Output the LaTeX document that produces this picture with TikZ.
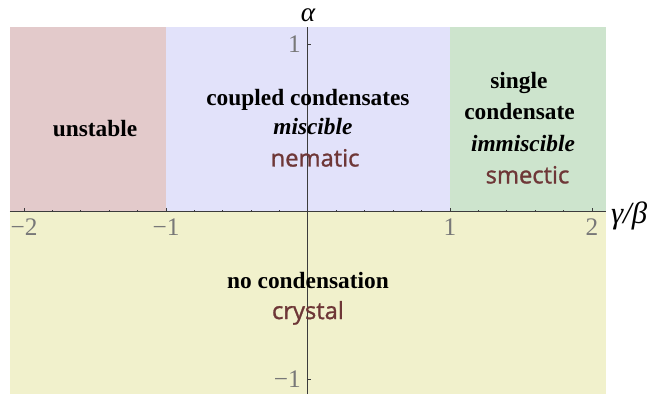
\documentclass[tikz,border=0pt]{standalone}
\usepackage{fontspec}
\setmainfont{Liberation Serif}
\newfontfamily\phasefont[FakeBold=1.2]{Open Sans}
\definecolor{unstcol}{RGB}{227,202,203}
\definecolor{coupcol}{RGB}{226,226,250}
\definecolor{singcol}{RGB}{205,228,205}
\definecolor{nonecol}{RGB}{241,241,204}
\definecolor{phasecol}{RGB}{110,55,55}
\definecolor{tickcol}{RGB}{120,120,120}
\definecolor{axiscol}{RGB}{60,60,60}
\begin{document}
\begin{tikzpicture}[x=2.84cm, y=3.35cm,
  region/.style={anchor=base, font=\fontsize{13.3}{16}\selectfont\bfseries},
  regionit/.style={anchor=base, font=\fontsize{13.3}{16}\selectfont\bfseries\itshape},
  phase/.style={anchor=base, font=\fontsize{13.5}{16}\selectfont\phasefont, text=phasecol},
  ticklab/.style={font=\fontsize{14.4}{16}\selectfont, text=tickcol, inner sep=1pt},
  axlab/.style={font=\fontsize{17.5}{19}\selectfont\itshape, inner sep=1pt},
  axisline/.style={axiscol, line width=0.6pt}]
\useasboundingbox (-2.169,-1.09) rectangle (2.43,1.263);
% phase regions
\fill[unstcol] (-2.1,0) rectangle (-1,1.1);
\fill[coupcol] (-1,0) rectangle (1,1.1);
\fill[singcol] (1,0) rectangle (2.1,1.1);
\fill[nonecol] (-2.1,-1.09) rectangle (2.1,0);
% axes and ticks
\draw[axisline] (-2.1,0) -- (2.1,0);
\draw[axisline] (0,-1.09) -- (0,1.1);
\foreach \x in {-1.8,-1.6,-1.4,-1.2,-0.8,-0.6,-0.4,-0.2,0.2,0.4,0.6,0.8,1.2,1.4,1.6,1.8}
  \draw[axisline, line width=0.4pt] (\x,0) -- ++(0,0.04cm);
\foreach \x in {-2,-1,1,2}
  \draw[axisline, line width=0.5pt] (\x,0) -- ++(0,0.08cm);
\foreach \y in {-1,1}
  \draw[axisline, line width=0.5pt] (0,\y) -- ++(0.07cm,0);
\node[ticklab, yshift=-0.32cm] (xm2) at (-2,0) {−2};
\node[ticklab, yshift=-0.32cm] (xm1) at (-1,0) {−1};
\node[ticklab, yshift=-0.32cm] (xp1) at (1,0) {1};
\node[ticklab, yshift=-0.32cm] (xp2) at (2,0) {2};
\node[ticklab, anchor=east, xshift=-0.1cm] (yp1) at (0,1) {1};
\node[ticklab, anchor=east, xshift=-0.1cm] (ym1) at (0,-1) {−1};
\node[axlab, font=\fontsize{15.5}{17}\selectfont\itshape] (alpha) at (0,1.172) {α};
\node[axlab, anchor=west, yshift=-0.08cm] (gb) at (2.12,0) {γ/β};
% region labels
\node[region] (unst) at (-1.5,0.448) {unstable};
\node[region] (coupA) at (0,0.636) {coupled condensates};
\node[regionit] (coupB) at (0.035,0.457) {miscible};
\node[phase] (coupC) at (0.05,0.269) {nematic};
\node[region] (singA) at (1.486,0.737) {single};
\node[region] (singB) at (1.49,0.55) {condensate};
\node[regionit] (singC) at (1.514,0.357) {immiscible};
\node[phase] (singD) at (1.546,0.168) {smectic};
\node[region] (noneA) at (0,-0.457) {no condensation};
\node[phase] (noneB) at (0,-0.642) {crystal};
\end{tikzpicture}
\end{document}
